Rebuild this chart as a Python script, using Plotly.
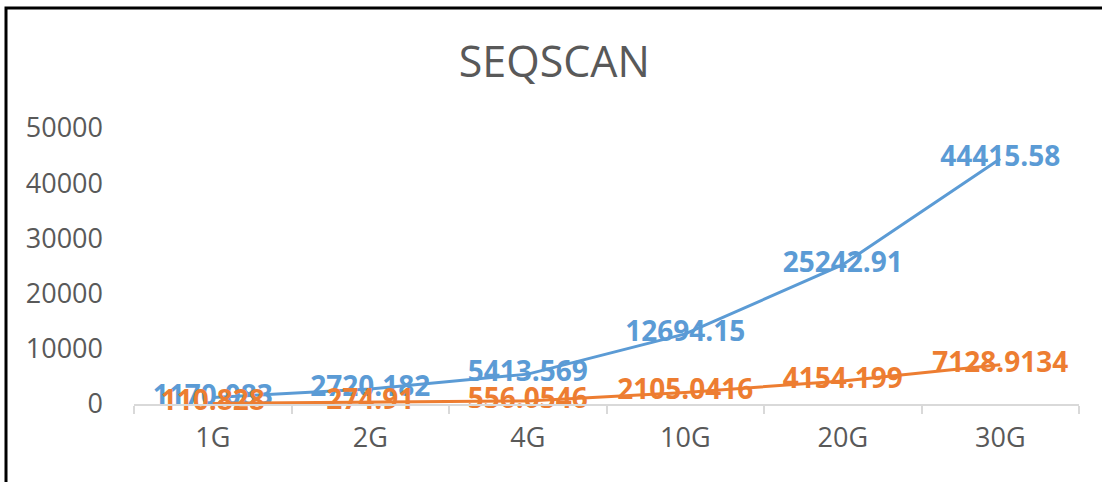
import plotly.graph_objects as go

categories = ["1G", "2G", "4G", "10G", "20G", "30G"]
series_a = [1170.083, 2720.182, 5413.569, 12694.15, 25242.91, 44415.58]
series_a_labels = ["1170.083", "2720.182", "5413.569", "12694.15", "25242.91", "44415.58"]
series_b = [110.828, 274.91, 556.0546, 2105.0416, 4154.199, 7128.9134]
series_b_labels = ["110.828", "274.91", "556.0546", "2105.0416", "4154.199", "7128.9134"]
y_ticks = [0, 10000, 20000, 30000, 40000, 50000]

W, H = 1102, 482
L, R, T, B = 134, 1102 - 1079, 128, 482 - 404
pw, ph = W - L - R, H - T - B

FONT = "Open Sans, DejaVu Sans, sans-serif"
BLUE = "#5B9BD5"
ORANGE = "#ED7D31"

fig = go.Figure()
fig.add_trace(go.Scatter(
    x=categories, y=series_a, text=series_a_labels, mode="lines+text",
    textposition="middle center", line=dict(color=BLUE, width=3),
    textfont=dict(color=BLUE, size=28, family=FONT, weight="bold"),
    cliponaxis=False, showlegend=False))
fig.add_trace(go.Scatter(
    x=categories, y=series_b, text=series_b_labels, mode="lines+text",
    textposition="middle center", line=dict(color=ORANGE, width=3),
    textfont=dict(color=ORANGE, size=28, family=FONT, weight="bold"),
    cliponaxis=False, showlegend=False))

fig.update_layout(
    width=W, height=H,
    margin=dict(l=L, r=R, t=T, b=B, autoexpand=False),
    paper_bgcolor="white", plot_bgcolor="white",
    title=dict(text="SEQSCAN", x=0.503, xref="container", xanchor="center",
               y=1 - 62 / H, yref="container", yanchor="middle",
               font=dict(size=43, color="#595959", family=FONT)),
    xaxis=dict(type="category", range=[-0.5, 5.5], showgrid=False, showline=True,
               linecolor="#d9d9d9", linewidth=1.5, ticks="outside",
               tickson="boundaries", ticklen=8, tickcolor="#d9d9d9", tickwidth=1.5,
               tickfont=dict(size=27, color="#595959", family=FONT),
               ticklabelstandoff=9, zeroline=False, automargin=False),
    yaxis=dict(range=[0, 50000], tickvals=y_ticks, tickformat="d", showgrid=False,
               showline=False, zeroline=False, ticks="",
               tickfont=dict(size=27, color="#595959", family=FONT),
               ticklabelstandoff=30, automargin=False),
)

# chart border (left and top visible)
fig.add_shape(type="rect", xref="paper", yref="paper",
              x0=(6 - L) / pw, x1=(1110 - L) / pw,
              y0=-(490 - (H - B)) / ph, y1=1 + (T - 8) / ph,
              line=dict(color="black", width=3), fillcolor="rgba(0,0,0,0)",
              layer="below")

fig.write_html("out.html", config={"displayModeBar": False},
               post_script="document.body.style.margin='0';")
